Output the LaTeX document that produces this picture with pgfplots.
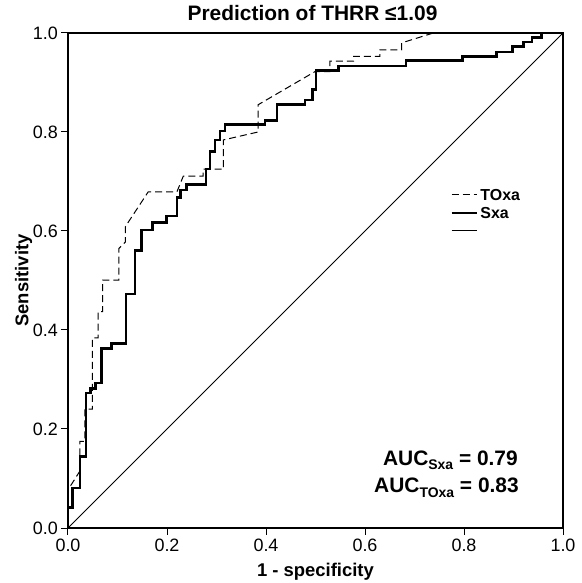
\documentclass[border=0pt]{standalone}
\usepackage{fontspec}
\setmainfont{Liberation Sans}
\usepackage{pgfplots}
\pgfplotsset{compat=1.18}
\usetikzlibrary{calc}

\begin{document}
\begin{tikzpicture}
\begin{axis}[
  scale only axis, width=495bp, height=495bp,
  xmin=0, xmax=1, ymin=0, ymax=1,
  xtick={0,0.2,0.4,0.6,0.8,1}, ytick={0,0.2,0.4,0.6,0.8,1},
  tick align=outside, xtick pos=left, ytick pos=left,
  major tick length=7bp,
  tick style={line width=1bp, black},
  axis line style={line width=1.1bp},
  ticklabel style={font=\fontsize{18}{20}\selectfont},
  xticklabel style={inner sep=1bp, yshift=-3bp},
  yticklabel style={inner sep=1bp, xshift=-2bp},
  /pgf/number format/fixed,
  /pgf/number format/fixed zerofill,
  /pgf/number format/precision=1,
  /pgf/number format/assume math mode=true,
  title={Prediction of THRR ≤1.09},
  title style={font=\bfseries\fontsize{21}{24}\selectfont, at={(axis description cs:0.494,1)}, anchor=base, yshift=6.3bp, inner sep=0pt},
  xlabel={1 - specificity},
  xlabel style={font=\bfseries\fontsize{18.5}{22}\selectfont, at={(axis description cs:0.5,0)}, anchor=base, yshift=-48.7bp, inner sep=0pt},
  ylabel={Sensitivity},
  ylabel style={font=\bfseries\fontsize{18.5}{22}\selectfont, at={(axis description cs:0,0.5)}, anchor=center, yshift=44.5bp, inner sep=0pt},
  legend image code/.code={\draw[#1] (0bp,0bp) -- (25bp,0bp);},
  legend style={at={(axis cs:0.772,0.69)}, anchor=north west, draw=none, fill=none,
    font=\bfseries\fontsize{16}{18}\selectfont, row sep=2bp, inner sep=0pt,
    nodes={inner sep=2.5bp, text depth=0pt}},
  legend cell align=left,
]
\addplot[black, line width=1bp, dash pattern=on 7bp off 4bp] coordinates {
  (0,0) (0,0.083) (0.005,0.085) (0.024,0.115) (0.024,0.175) (0.034,0.175)
  (0.034,0.24) (0.049,0.24) (0.049,0.384) (0.061,0.384) (0.061,0.437)
  (0.07,0.437) (0.07,0.501) (0.103,0.501) (0.103,0.565) (0.116,0.578)
  (0.116,0.609) (0.162,0.679) (0.22,0.679) (0.233,0.711) (0.273,0.711)
  (0.273,0.725) (0.314,0.725) (0.314,0.784) (0.384,0.80) (0.384,0.855)
  (0.499,0.922) (0.529,0.922) (0.529,0.943) (0.577,0.943) (0.577,0.953)
  (0.63,0.953) (0.63,0.966) (0.674,0.966) (0.674,0.98) (0.738,1) (1,1)
};
\addlegendentry{TOxa}
\addplot[black, line width=2.6bp] coordinates {
  (0,0) (0,0.042) (0.009,0.042) (0.009,0.081) (0.024,0.081) (0.024,0.145)
  (0.036,0.145) (0.036,0.273) (0.046,0.273) (0.046,0.282) (0.055,0.282)
  (0.055,0.293) (0.068,0.293) (0.068,0.363) (0.088,0.363) (0.088,0.373)
  (0.117,0.373) (0.117,0.473) (0.135,0.473) (0.135,0.56) (0.149,0.56)
  (0.149,0.602) (0.171,0.602) (0.171,0.617) (0.199,0.617) (0.199,0.630)
  (0.22,0.630) (0.22,0.668) (0.227,0.668) (0.227,0.683) (0.239,0.683)
  (0.239,0.694) (0.279,0.694) (0.279,0.725) (0.287,0.725) (0.287,0.760)
  (0.297,0.760) (0.297,0.784) (0.307,0.784) (0.307,0.802) (0.317,0.802)
  (0.317,0.815) (0.398,0.815) (0.398,0.823) (0.422,0.823) (0.422,0.856)
  (0.479,0.856) (0.479,0.865) (0.494,0.865) (0.494,0.886) (0.501,0.886)
  (0.501,0.924) (0.546,0.924) (0.546,0.933) (0.683,0.933) (0.683,0.944)
  (0.797,0.944) (0.797,0.953) (0.866,0.953) (0.866,0.962) (0.898,0.962)
  (0.898,0.973) (0.92,0.973) (0.92,0.982) (0.937,0.982) (0.937,0.991)
  (0.957,0.991) (0.957,1) (1,1)
};
\addlegendentry{Sxa}
\addplot[black, line width=1bp] coordinates {(0,0) (1,1)};
\addlegendentry{\phantom{S}}
\node[anchor=base east, inner sep=0pt, font=\bfseries\fontsize{21}{24}\selectfont]
  at (axis cs:0.909,0.127) {AUC\raisebox{-4.3bp}{\fontsize{14}{16}\selectfont Sxa} = 0.79};
\node[anchor=base east, inner sep=0pt, font=\bfseries\fontsize{21}{24}\selectfont]
  at (axis cs:0.911,0.0713) {AUC\raisebox{-4.3bp}{\fontsize{14}{16}\selectfont TOxa} = 0.83};
\end{axis}
\pgfresetboundingbox
\path ($(current axis.south west)+(-68bp,-55bp)$) rectangle ($(current axis.north east)+(19bp,33bp)$);
\end{tikzpicture}
\end{document}
